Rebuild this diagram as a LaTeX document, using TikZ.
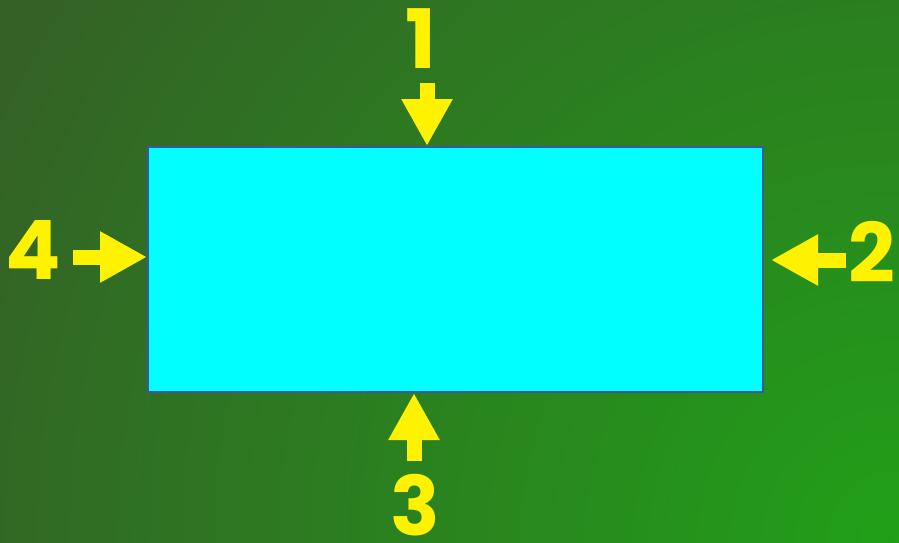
\documentclass[tikz,border=0pt]{standalone}
\usepackage{fontspec}
\setmainfont{Poppins}
\usetikzlibrary{arrows.meta}
\definecolor{bgdark}{RGB}{52,98,38}
\definecolor{bglight}{RGB}{33,160,24}
\definecolor{boxcyan}{RGB}{0,255,255}
\definecolor{boxedge}{RGB}{58,88,160}
\begin{document}
\begin{tikzpicture}[x=1pt, y=-1pt, every node/.style={font=\fontsize{82}{82}\selectfont\bfseries, text=yellow, inner sep=0pt}]
  \tikzstyle{yarrow}=[yellow, line width=15pt, -{Triangle[width=48pt,length=47pt]}]
  \useasboundingbox (0,0) rectangle (899,542);
  \fill[bgdark] (0,0) rectangle (899,542);
  \begin{scope}
    \clip (0,0) rectangle (899,542);
    \shade[inner color=bglight, outer color=bgdark] (899,542) circle (1000pt);
  \end{scope}
  \node[draw=boxedge, line width=2pt, fill=boxcyan, minimum width=615pt, minimum height=245pt, anchor=north west] (box) at (147,146) {};
  \node (n1) at (421,39) {1};
  \node (n2) at (872,252) {2};
  \node (n3) at (415,505) {3};
  \node (n4) at (33,250) {4};
  \coordinate (s1) at (427,83);
  \coordinate (s2) at (846,260);
  \coordinate (t2) at (771,260);
  \coordinate (s3) at (414,461);
  \coordinate (s4) at (73,257);
  \draw[yarrow] (s1) -- (s1 |- box.north);
  \draw[yarrow] (s2) -- (t2);
  \draw[yarrow] (s3) -- (s3 |- box.south);
  \draw[yarrow] (s4) -- (s4 -| box.west);
\end{tikzpicture}
\end{document}
